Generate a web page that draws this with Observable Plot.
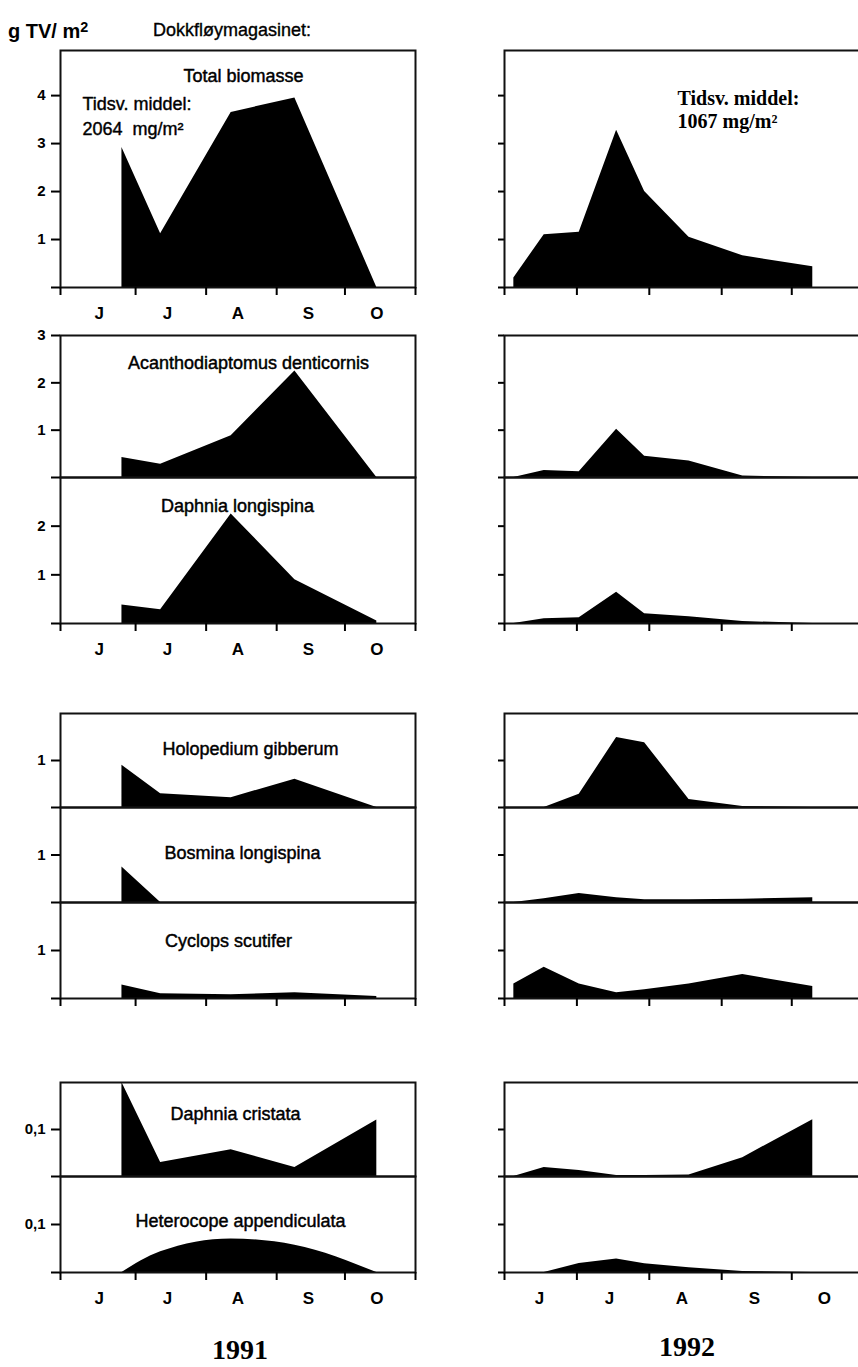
<!DOCTYPE html>
<html>
<head>
<meta charset="utf-8">
<script src="https://cdn.jsdelivr.net/npm/d3@7"></script>
<script src="https://cdn.jsdelivr.net/npm/@observablehq/plot@0.6"></script>
<style>
  html, body { margin: 0; padding: 0; background: #fff; }
  body { width: 858px; height: 1367px; overflow: hidden; position: relative;
         font-family: "Liberation Sans", Arial, sans-serif; color: #000; }
  .lbl { position: absolute; white-space: nowrap; line-height: 1; }
</style>
</head>
<body>
<script>
// ---------- data ----------
const monthLabels = ["J", "J", "A", "S", "O"];

const dates1991 = ["1991-06-25", "1991-07-12", "1991-08-12", "1991-09-09", "1991-10-15"];
const dates1992 = ["1992-06-04", "1992-06-17", "1992-07-02", "1992-07-18", "1992-07-30", "1992-08-18", "1992-09-10", "1992-10-10"];

// g TV / m2
const total1991     = [2.92, 1.12, 3.65, 3.95, 0];
const total1992     = [0.20, 1.10, 1.15, 3.28, 2.00, 1.05, 0.66, 0.43];
const acanth1991    = [0.42, 0.28, 0.88, 2.25, 0];
const acanth1992    = [0, 0.15, 0.12, 1.02, 0.45, 0.35, 0.03, 0];
const dlong1991     = [0.38, 0.28, 2.25, 0.90, 0.05];
const dlong1992     = [0, 0.10, 0.12, 0.64, 0.20, 0.14, 0.04, 0];
const holo1991      = [0.90, 0.29, 0.21, 0.60, 0];
const holo1992      = [0, 0, 0.28, 1.49, 1.38, 0.17, 0.02, 0];
const bosmina1991   = [0.75, 0, 0, 0, 0];
const bosmina1992   = [0, 0.08, 0.19, 0.10, 0.06, 0.06, 0.07, 0.10];
const cyclops1991   = [0.28, 0.10, 0.08, 0.12, 0.04];
const cyclops1992   = [0.30, 0.65, 0.30, 0.12, 0.18, 0.30, 0.50, 0.25];
const cristata1991  = [0.20, 0.030, 0.057, 0.019, 0.120];
const cristata1992  = [0, 0.019, 0.013, 0.002, 0.002, 0.003, 0.040, 0.121];
const hetero1991    = [0, 0.043, 0.070, 0.057, 0];
const hetero1992    = [0, 0, 0.019, 0.028, 0.018, 0.010, 0.002, 0];

const titles = {
  total: "Total biomasse",
  acanth: "Acanthodiaptomus denticornis",
  dlong: "Daphnia longispina",
  holo: "Holopedium gibberum",
  bosmina: "Bosmina longispina",
  cyclops: "Cyclops scutifer",
  cristata: "Daphnia cristata",
  hetero: "Heterocope appendiculata"
};

// ---------- drawing ----------
const BOX_W = 355;
const fmt = d => String(d).replace(".", ",");
const SANS = "'Liberation Sans', Arial, Helvetica, sans-serif";
const SERIF = "'Liberation Serif', 'Times New Roman', serif";

function addLabel(html, left, baseline, size, opts = {}) {
  const div = document.createElement("div");
  div.className = "lbl";
  div.innerHTML = html;
  div.style.fontSize = size + "px";
  div.style.fontFamily = opts.family || SANS;
  if (opts.weight) div.style.fontWeight = opts.weight;
  if (opts.stroke) div.style.webkitTextStroke = opts.stroke;
  const top = baseline - 0.86 * size;
  div.style.top = top + "px";
  if (opts.center) { div.style.left = left + "px"; div.style.transform = "translateX(-50%)"; }
  else div.style.left = left + "px";
  document.body.appendChild(div);
}

function panel(cfg) {
  const {year, dates, values, top, h, yMax, yTicks, title, tcx, tdy, xTicks, xLabels, curve, notes} = cfg;
  const left = year === 1991 ? 60 : 504;
  const xDomain = year === 1991
    ? [new Date("1991-05-29"), new Date("1991-11-01")]
    : [new Date("1992-05-31"), new Date("1992-10-30")];
  const monthStarts = year === 1991
    ? [xDomain[0], ...["07", "08", "09", "10"].map(m => new Date(`1991-${m}-01`)), xDomain[1]]
    : [xDomain[0], ...["07", "08", "09", "10"].map(m => new Date(`1992-${m}-01`))];
  const midMonths = ["06", "07", "08", "09", "10"].map(m => new Date(`${year}-${m}-15`));
  const rows = dates.map((d, i) => ({date: new Date(d), v: values[i]}));
  const mL = 60, mR = 30, mT = 4, mB = xLabels ? 40 : 14;
  const showLabels = year === 1991;

  const marks = [
    Plot.areaY(rows, {x: "date", y: "v", fill: "#000", curve: curve || "linear"}),
    Plot.axisY({
      ticks: yTicks,
      label: null,
      tickSize: year === 1991 ? 9 : 6,
      tickPadding: 6,
      strokeWidth: 2,
      tickFormat: showLabels ? (d => d === 0 ? "" : fmt(d)) : () => "",
      fontSize: 15, fontWeight: "bold"
    }),
    Plot.frame({stroke: "#111", strokeWidth: 2})
  ];
  if (xTicks) {
    marks.push(Plot.axisX({ticks: monthStarts, label: null, tickSize: 8, strokeWidth: 2, tickFormat: () => ""}));
  }
  if (xLabels) {
    marks.push(Plot.axisX({
      ticks: midMonths, label: null, tickSize: 0, tickPadding: 19,
      tickFormat: d => monthLabels[d.getUTCMonth() - 5],
      fontSize: 17, fontWeight: "bold"
    }));
  }
  if (title && showLabels) {
    marks.push(Plot.text([title], {
      text: d => d, frameAnchor: "top", dx: tcx - (60 + BOX_W / 2), dy: tdy,
      fontSize: 18, fill: "#000", stroke: "#000", strokeWidth: 0.45
    }));
  }
  if (notes) for (const n of notes) marks.push(n);

  const svg = Plot.plot({
    width: mL + BOX_W + mR,
    height: mT + h + mB,
    marginLeft: mL, marginRight: mR, marginTop: mT, marginBottom: mB,
    x: {type: "utc", domain: xDomain, axis: null, label: null},
    y: {domain: [0, yMax], axis: null, label: null},
    style: {fontFamily: SANS, fontSize: "15px", background: "transparent", overflow: "visible", color: "#000"},
    marks
  });
  svg.style.position = "absolute";
  svg.style.left = (left - mL) + "px";
  svg.style.top = (top - mT) + "px";
  document.body.appendChild(svg);
}

const G = [
  {key: "total",    top: 50,   h: 237, yMax: 4.94, yTicks: [0, 1, 2, 3, 4], tcx: 243, tdy: 19, xTicks: true,  xLabels: true},
  {key: "acanth",   top: 335,  h: 142, yMax: 3,    yTicks: [0, 1, 2, 3],    tcx: 248, tdy: 21, xTicks: false, xLabels: false},
  {key: "dlong",    top: 477,  h: 146, yMax: 3,    yTicks: [0, 1, 2],       tcx: 237, tdy: 22, xTicks: true,  xLabels: true},
  {key: "holo",     top: 713,  h: 94,  yMax: 2,    yTicks: [0, 1],          tcx: 250, tdy: 29, xTicks: false, xLabels: false},
  {key: "bosmina",  top: 807,  h: 95,  yMax: 2,    yTicks: [0, 1],          tcx: 242, tdy: 39, xTicks: false, xLabels: false},
  {key: "cyclops",  top: 902,  h: 96,  yMax: 2,    yTicks: [0, 1],          tcx: 228, tdy: 32, xTicks: true,  xLabels: false},
  {key: "cristata", top: 1082, h: 94,  yMax: 0.2,  yTicks: [0, 0.1],        tcx: 235, tdy: 25, xTicks: false, xLabels: false},
  {key: "hetero",   top: 1176, h: 96,  yMax: 0.2,  yTicks: [0, 0.1],        tcx: 240, tdy: 38, xTicks: true,  xLabels: true, curve1991: "monotone-x"}
];
const series = {
  total: [total1991, total1992], acanth: [acanth1991, acanth1992], dlong: [dlong1991, dlong1992],
  holo: [holo1991, holo1992], bosmina: [bosmina1991, bosmina1992], cyclops: [cyclops1991, cyclops1992],
  cristata: [cristata1991, cristata1992], hetero: [hetero1991, hetero1992]
};

for (const g of G) {
  for (const year of [1991, 1992]) {
    const values = series[g.key][year === 1991 ? 0 : 1];
    let notes = null;
    if (g.key === "total" && year === 1991) {
      notes = [
        Plot.text(["Tidsv. middel:"], {text: d => d, frameAnchor: "top-left", textAnchor: "start", dx: 22, dy: 47, fontSize: 18, fill: "#000", stroke: "#000", strokeWidth: 0.4}),
        Plot.text(["2064  mg/m²"], {text: d => d, frameAnchor: "top-left", textAnchor: "start", dx: 22, dy: 72, fontSize: 18, fill: "#000", stroke: "#000", strokeWidth: 0.4})
      ];
    }
    if (g.key === "total" && year === 1992) {
      notes = [
        Plot.text(["Tidsv. middel:"], {text: d => d, frameAnchor: "top-left", textAnchor: "start", dx: 173, dy: 40, fontSize: 20, fontWeight: "bold", fontFamily: SERIF, fill: "#000"}),
        Plot.text(["1067 mg/m²"], {text: d => d, frameAnchor: "top-left", textAnchor: "start", dx: 173, dy: 63, fontSize: 20, fontWeight: "bold", fontFamily: SERIF, fill: "#000"})
      ];
    }
    panel({
      year, dates: year === 1991 ? dates1991 : dates1992, values,
      top: g.top, h: g.h, yMax: g.yMax, yTicks: g.yTicks,
      title: titles[g.key], tcx: g.tcx, tdy: g.tdy,
      xTicks: g.xTicks, xLabels: g.xLabels && (year === 1991 || g.key === "hetero"),
      curve: year === 1991 ? g.curve1991 : null, notes
    });
  }
}

// header and year captions
addLabel('g TV/ m<sup style="font-size:0.72em;vertical-align:0.45em">2</sup>', 8, 37, 20, {weight: "bold"});
addLabel("Dokkfløymagasinet:", 153, 36, 18, {stroke: "0.35px #000"});
addLabel("1991", 240, 1360, 28, {center: true, weight: "bold", family: SERIF});
addLabel("1992", 687, 1357, 28, {center: true, weight: "bold", family: SERIF});
</script>
</body>
</html>
